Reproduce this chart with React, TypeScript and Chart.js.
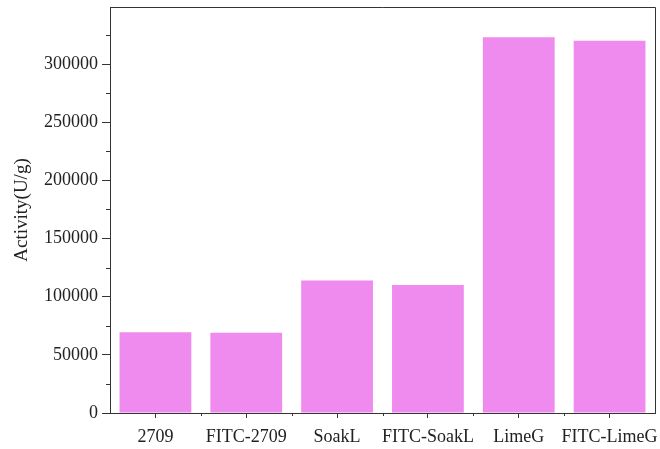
import React, { useEffect, useRef } from "react";
import { Chart, registerables } from "chart.js";

Chart.register(...registerables);

const categories = ["2709", "FITC-2709", "SoakL", "FITC-SoakL", "LimeG", "FITC-LimeG"];
const activity = [69500, 69000, 114000, 110000, 323000, 320000];
const yMax = 349000;
const yStep = 50000;
const yMinorStep = 25000;
const yLabelMax = 300000;

const axisColor = "#333333";
const textColor = "#222222";
const barColor = "#EF8AEF";
const fontFamily = "'Liberation Serif', 'DejaVu Serif', serif";

const framePlugin = {
  id: "frameAndMinor",
  afterDraw(chart: any) {
    const { ctx, chartArea, scales } = chart;
    ctx.save();
    ctx.strokeStyle = axisColor;
    ctx.lineWidth = 1;
    ctx.beginPath();
    ctx.moveTo(chartArea.left, chartArea.top + 0.5);
    ctx.lineTo(chartArea.right + 0.5, chartArea.top + 0.5);
    ctx.lineTo(chartArea.right + 0.5, chartArea.bottom);
    ctx.stroke();
    const y = scales.y;
    ctx.beginPath();
    for (let v = yMinorStep; v < yMax; v += yStep) {
      const py = Math.round(y.getPixelForValue(v)) + 0.5;
      ctx.moveTo(chartArea.left - 4, py);
      ctx.lineTo(chartArea.left, py);
    }
    const x = scales.x;
    for (let i = 1; i < categories.length; i++) {
      const px = Math.round((x.getPixelForValue(i - 1) + x.getPixelForValue(i)) / 2) + 0.5;
      ctx.moveTo(px, chartArea.bottom);
      ctx.lineTo(px, chartArea.bottom + 3);
    }
    ctx.stroke();
    ctx.restore();
  },
};

export default function App() {
  const canvasRef = useRef<HTMLCanvasElement | null>(null);

  useEffect(() => {
    document.body.style.margin = "0";
    const canvas = canvasRef.current;
    if (!canvas) return;
    const chart = new Chart(canvas, {
      type: "bar",
      data: {
        labels: categories,
        datasets: [
          {
            label: "Activity",
            data: activity,
            backgroundColor: barColor,
            borderWidth: 0,
            barPercentage: 0.79,
            categoryPercentage: 1.0,
          },
        ],
      },
      options: {
        animation: false,
        responsive: false,
        maintainAspectRatio: false,
        layout: { padding: { left: 8, right: 5, top: 7, bottom: 4 } },
        plugins: {
          legend: { display: false },
          tooltip: { enabled: false },
        },
        scales: {
          x: {
            afterFit(scale: any) {
              scale.height = 32;
              scale.paddingLeft = 0;
              scale.paddingRight = 0;
            },
            grid: {
              display: true,
              drawOnChartArea: false,
              drawTicks: true,
              tickLength: 5,
              color: axisColor,
              offset: false,
            },
            border: { display: true, color: axisColor, width: 1 },
            ticks: {
              color: textColor,
              font: { family: fontFamily, size: 18 },
              padding: 8,
              maxRotation: 0,
              autoSkip: false,
            },
          },
          y: {
            min: 0,
            max: yMax,
            afterFit(scale: any) {
              scale.width = 102;
              scale.paddingTop = 0;
              scale.paddingBottom = 0;
            },
            afterBuildTicks(scale: any) {
              const t = [];
              for (let v = 0; v <= yLabelMax; v += yStep) t.push({ value: v });
              scale.ticks = t;
            },
            grid: {
              display: true,
              drawOnChartArea: false,
              drawTicks: true,
              tickLength: 8,
              color: axisColor,
            },
            border: { display: true, color: axisColor, width: 1 },
            ticks: {
              color: textColor,
              font: { family: fontFamily, size: 18 },
              padding: 4,
              callback: (v: any) => String(v),
            },
            title: {
              display: true,
              text: "Activity(U/g)",
              color: textColor,
              font: { family: fontFamily, size: 19 },
              padding: { top: 3, bottom: 2 },
            },
          },
        },
      },
      plugins: [framePlugin],
    });
    return () => chart.destroy();
  }, []);

  return (
    <div style={{ position: "absolute", left: 0, top: 0, width: 660, height: 449, background: "#fff" }}>
      <canvas ref={canvasRef} width={660} height={449} style={{ display: "block" }} />
    </div>
  );
}
